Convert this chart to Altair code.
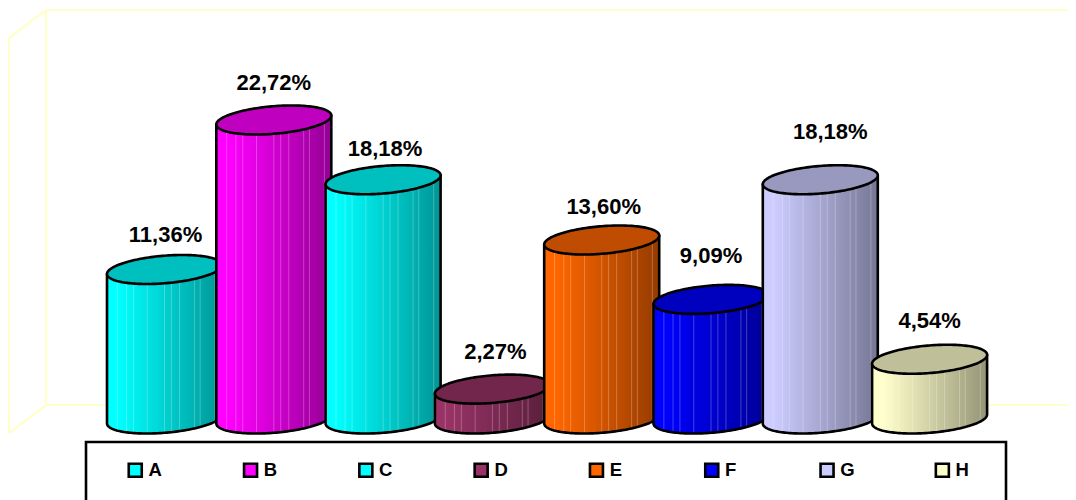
import math
import altair as alt
import pandas as pd

categories = ["A", "B", "C", "D", "E", "F", "G", "H"]
values = [11.36, 22.72, 18.18, 2.27, 13.60, 9.09, 18.18, 4.54]
colors = ["#00FFFF", "#FF00FF", "#00FFFF", "#993366", "#FF6600", "#0000FF", "#CCCCFF", "#FFFFCC"]
label_dx = [1, 0, 2, 3, 2, 0, 10, 0]
label_dy = [-35, -37, -31, -37, -33, -43, -48, -38]
stripe_positions = [0.09, 0.17, 0.23, 0.35, 0.50, 0.56, 0.63, 0.76, 0.81, 0.94]

W, H = 1060, 492
PX_PER_VALUE = 13.16
BASE_Y = 411.0
PX_PER_SLOT = 109.3
FIRST_X = 156.5
x_scale = alt.Scale(domain=[-FIRST_X / PX_PER_SLOT, (W - FIRST_X) / PX_PER_SLOT], nice=False, zero=False)
y_scale = alt.Scale(domain=[(BASE_Y - H) / PX_PER_VALUE, BASE_Y / PX_PER_VALUE], nice=False, zero=False)
X = lambda f: alt.X(f, type="quantitative", scale=x_scale, axis=None)
Y = lambda f: alt.Y(f, type="quantitative", scale=y_scale, axis=None)

A_PX, H_PX, SHEAR = 57.5, 13.8, 0.078
N = 81


def shade(hex_color, k):
    r, g, b = [int(hex_color[i:i + 2], 16) for i in (1, 3, 5)]
    return "#%02X%02X%02X" % (round(r * k), round(g * k), round(b * k))


def rim(u, sign):
    return (SHEAR * A_PX * u + sign * H_PX * math.sqrt(max(0.0, 1 - u * u))) / PX_PER_VALUE


def ell_rows(i, v):
    rows = []
    for n in range(N):
        u = -math.cos(math.pi * n / (N - 1))
        rows.append({
            "x": i + u * A_PX / PX_PER_SLOT,
            "top_up": v + rim(u, 1),
            "top_lo": v + rim(u, -1),
            "body_top": v + rim(u, 0),
            "body_lo": rim(u, -1),
        })
    return pd.DataFrame(rows)


def stripe_rows(i, v):
    rows = []
    for p in stripe_positions:
        u = 2 * p - 1
        rows.append({
            "x": i + u * A_PX / PX_PER_SLOT,
            "y": v + rim(u, 0),
            "y2": rim(u, -1) + 1.5 / PX_PER_VALUE,
        })
    return pd.DataFrame(rows)


def wall(x1, y1, x2, y2):
    return alt.Chart(pd.DataFrame({"k": [0]})).mark_rule(color="#FFFFCC", strokeWidth=2.2).encode(
        x=alt.value(x1), y=alt.value(y1), x2=alt.value(x2), y2=alt.value(y2))


layers = [
    wall(38, 2, 1060, 2), wall(38, 2, 38, 397), wall(38, 2, 1, 30), wall(1, 30, 1, 425),
    wall(1, 425, 38, 397), wall(38, 397, 1060, 397),
]

for i, (v, c) in enumerate(zip(values, colors)):
    grad = alt.Gradient(
        gradient="linear", x1=0, x2=1, y1=0, y2=0,
        stops=[
            alt.GradientStop(color=c, offset=0),
            alt.GradientStop(color=c, offset=0.1),
            alt.GradientStop(color=shade(c, 0.82), offset=0.5),
            alt.GradientStop(color=shade(c, 0.58), offset=1),
        ],
    )
    ell = ell_rows(i, v)
    layers.append(alt.Chart(ell).mark_area(color=grad, stroke="black", strokeWidth=2.6, strokeJoin="round").encode(
        x=X("x"), y=Y("body_top"), y2=alt.Y2("body_lo")))
    layers.append(alt.Chart(stripe_rows(i, v)).mark_rule(color="white", opacity=0.25, strokeWidth=1).encode(
        x=X("x"), y=Y("y"), y2=alt.Y2("y2")))
    layers.append(alt.Chart(ell).mark_area(color=shade(c, 0.75), stroke="black", strokeWidth=2.6).encode(
        x=X("x"), y=Y("top_up"), y2=alt.Y2("top_lo")))

labels = pd.DataFrame({
    "x": range(8), "value": values,
    "label": [f"{v:.2f}".replace(".", ",") + "%" for v in values],
})
for i in range(8):
    layers.append(alt.Chart(labels.iloc[[i]]).mark_text(
        font="Liberation Sans", fontWeight="bold", fontSize=22, color="black",
        dx=label_dx[i], dy=label_dy[i], baseline="middle", align="center",
    ).encode(x=X("x"), y=Y("value"), text="label:N"))

# legend frame
layers.append(alt.Chart(pd.DataFrame({"k": [0]})).mark_rect(fill="white", stroke="black", strokeWidth=2.6).encode(
    x=alt.value(78), x2=alt.value(998), y=alt.value(434), y2=alt.value(520)))

legend_df = pd.DataFrame({"cat": categories, "x": range(8), "value": values})
layers.append(alt.Chart(legend_df).mark_point(filled=True, size=0, opacity=0).encode(
    x=X("x"), y=Y("value"),
    color=alt.Color("cat:N", scale=alt.Scale(domain=categories, range=colors), legend=alt.Legend(
        title=None, orient="none", legendX=118, legendY=453, columns=8, gridAlign="all", padding=0,
        symbolType="square", symbolSize=169, symbolStrokeColor="black", symbolStrokeWidth=2.6, symbolOpacity=1,
        labelFont="Liberation Sans", labelFontWeight="bold", labelFontSize=18.5, labelColor="black",
        labelOffset=4, columnPadding=75.3,
    )),
))

chart = alt.layer(*layers).properties(
    width=W, height=H, padding=0, autosize=alt.AutoSizeParams(type="none"), background="white",
).configure_view(stroke=None)

chart.save("out.html", embed_options={"renderer": "svg", "actions": False})
